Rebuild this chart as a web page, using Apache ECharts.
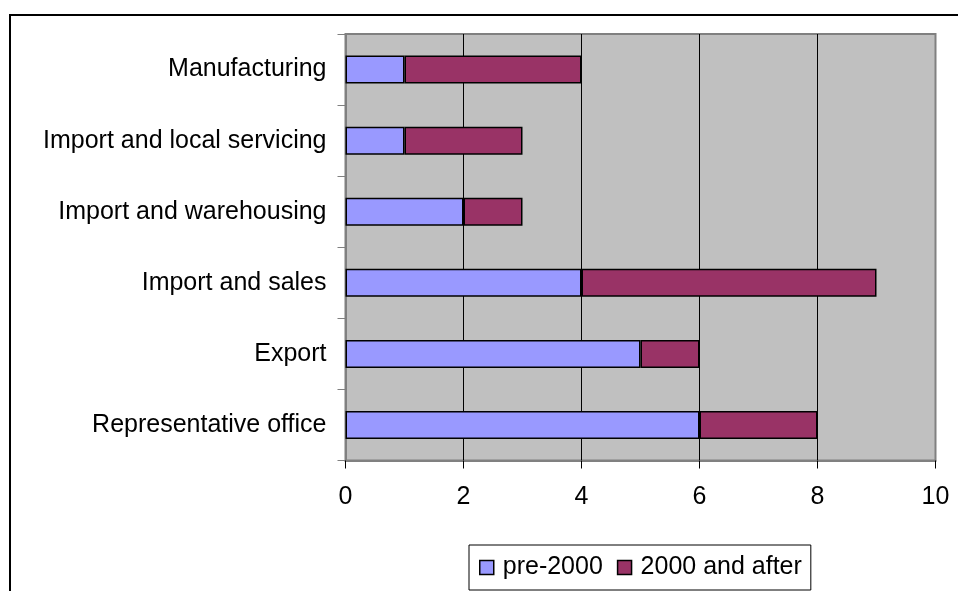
<!DOCTYPE html>
<html>
<head>
<meta charset="utf-8">
<script src="https://cdn.jsdelivr.net/npm/echarts@6/dist/echarts.min.js"></script>
<style>
  html, body { margin: 0; padding: 0; background: #ffffff; }
  #chart { width: 958px; height: 591px; }
</style>
</head>
<body>
<div id="chart"></div>
<script>
// Entry modes, listed bottom to top along the category axis
const categories = [
  'Representative office',
  'Export',
  'Import and sales',
  'Import and warehousing',
  'Import and local servicing',
  'Manufacturing'
];
const pre2000 = [6, 5, 4, 2, 1, 1];
const after2000 = [2, 1, 5, 1, 2, 3];
const seriesNames = ['pre-2000', '2000 and after'];
const xTicks = { min: 0, max: 10, interval: 2 };

const FONT = '"Liberation Sans", Arial, sans-serif';

const chart = echarts.init(document.getElementById('chart'), null, { renderer: 'canvas' });

chart.setOption({
  animation: false,
  backgroundColor: '#ffffff',
  textStyle: { fontFamily: FONT },
  graphic: [{
    type: 'rect',
    shape: { x: 10, y: 15, width: 1000, height: 1000 },
    style: { fill: 'none', stroke: '#000000', lineWidth: 2 },
    z: 100,
    silent: true
  }],
  grid: {
    left: 345.5,
    top: 34,
    right: 22.5,
    bottom: 130.5,
    show: true,
    backgroundColor: '#c0c0c0',
    borderColor: '#808080',
    borderWidth: 2
  },
  legend: {
    data: seriesNames,
    left: 469,
    top: 545,
    orient: 'horizontal',
    backgroundColor: '#ffffff',
    borderColor: '#000000',
    borderWidth: 1,
    padding: [10, 9, 10, 10],
    itemWidth: 14,
    itemHeight: 14,
    itemGap: 14,
    icon: 'rect',
    itemStyle: { borderColor: '#000000', borderWidth: 1.5 },
    textStyle: { fontSize: 25, color: '#000000', fontFamily: FONT, padding: [0, 0, 0, 4] }
  },
  xAxis: {
    type: 'value',
    min: xTicks.min,
    max: xTicks.max,
    interval: xTicks.interval,
    axisLine: { show: true, lineStyle: { color: '#808080', width: 2 } },
    axisTick: { show: true, inside: false, length: 8, lineStyle: { color: '#000000', width: 1 } },
    axisLabel: { fontSize: 25, color: '#000000', margin: 24, fontFamily: FONT },
    splitLine: {
      show: true,
      showMinLine: false,
      showMaxLine: false,
      lineStyle: { color: '#000000', width: 1 }
    }
  },
  yAxis: {
    type: 'category',
    data: categories,
    boundaryGap: true,
    axisLine: { show: true, lineStyle: { color: '#808080', width: 2 } },
    axisTick: { show: true, inside: false, length: 8, alignWithLabel: false, lineStyle: { color: '#808080', width: 1 } },
    axisLabel: { fontSize: 25, color: '#000000', margin: 19, fontFamily: FONT },
    splitLine: { show: false }
  },
  series: [
    {
      name: seriesNames[0],
      type: 'bar',
      stack: 'total',
      data: pre2000,
      barWidth: 28,
      itemStyle: { color: '#9999ff', borderColor: '#000000', borderWidth: 1.5 }
    },
    {
      name: seriesNames[1],
      type: 'bar',
      stack: 'total',
      data: after2000,
      barWidth: 28,
      itemStyle: { color: '#993366', borderColor: '#000000', borderWidth: 1.5 }
    }
  ]
});
</script>
</body>
</html>
